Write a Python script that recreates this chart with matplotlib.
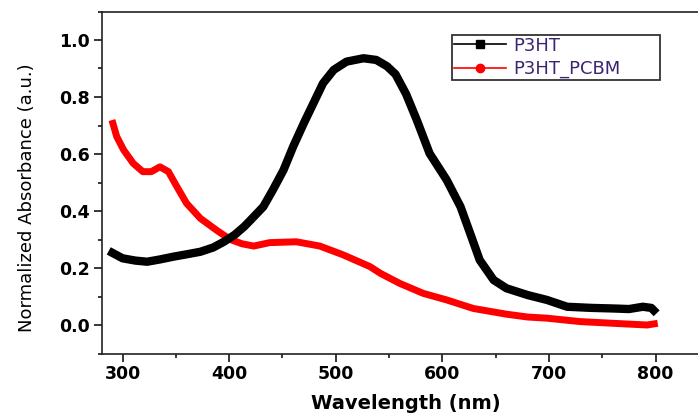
#!/usr/bin/env python3
"""UV-vis absorbance of P3HT and P3HT:PCBM films (normalized)."""

import matplotlib
matplotlib.use("Agg")
import matplotlib.pyplot as plt
from matplotlib.lines import Line2D
from matplotlib.ticker import MultipleLocator

# wavelength [nm] / normalized absorbance
p3ht_wl = [287, 300, 312, 323, 335, 348, 360, 373, 385, 395, 405, 414,
           420, 432, 441, 451, 460, 470, 479, 488, 498, 510, 526, 538,
           548, 556, 566, 576, 588, 604, 617, 626, 635, 648, 660, 680,
           698, 717, 740, 760, 775, 788, 796, 801]
p3ht_abs = [0.260, 0.234, 0.226, 0.222, 0.230, 0.240, 0.248, 0.257, 0.272,
            0.292, 0.316, 0.345, 0.368, 0.415, 0.474, 0.544, 0.626, 0.708,
            0.778, 0.848, 0.895, 0.924, 0.936, 0.930, 0.908, 0.880, 0.810,
            0.719, 0.602, 0.509, 0.415, 0.322, 0.228, 0.158, 0.129, 0.105,
            0.088, 0.064, 0.060, 0.058, 0.056, 0.064, 0.060, 0.041]

pcbm_wl = [290, 294.5, 301, 310, 319, 327, 335, 343, 351, 360, 373, 388,
           401, 412, 423, 438, 463, 485, 507, 532, 542, 560, 582, 604,
           629, 660, 680, 698, 729, 760, 792, 802]
pcbm_abs = [0.719, 0.661, 0.614, 0.567, 0.538, 0.538, 0.555, 0.538, 0.485,
            0.427, 0.374, 0.333, 0.300, 0.285, 0.277, 0.289, 0.292, 0.277,
            0.246, 0.205, 0.181, 0.146, 0.111, 0.088, 0.058, 0.038, 0.028,
            0.024, 0.012, 0.006, 0.000, 0.006]

labels = ["P3HT", "P3HT_PCBM"]
x_ticks = [300, 400, 500, 600, 700, 800]
y_ticks = [0.0, 0.2, 0.4, 0.6, 0.8, 1.0]

W, H = 698, 419
fig = plt.figure(figsize=(W / 100, H / 100), dpi=100)
# frame runs off the right edge of the figure
ax = fig.add_axes([101.7 / W, (H - 353.5) / H, (710 - 101.7) / W, (353.5 - 11.5) / H])

ax.plot(p3ht_wl, p3ht_abs, color="black", lw=6, solid_capstyle="butt",
        solid_joinstyle="round", zorder=3)
ax.plot(pcbm_wl, pcbm_abs, color="#ff0000", lw=5, solid_capstyle="butt",
        solid_joinstyle="round", zorder=2)

ax.set_xlim(280.4, 280.4 + (710 - 101.7) / 1.066)
ax.set_ylim(-0.1, 1.1)
ax.set_xticks(x_ticks)
ax.set_yticks(y_ticks)
ax.xaxis.set_minor_locator(MultipleLocator(50))
ax.yaxis.set_minor_locator(MultipleLocator(0.1))
ax.tick_params(which="major", direction="out", length=5.5, width=1.1, pad=3)
ax.tick_params(which="minor", direction="out", length=3, width=1.1)
ax.tick_params(top=False, right=False, which="both")
for lab in ax.get_xticklabels() + ax.get_yticklabels():
    lab.set_fontfamily("DejaVu Sans")
    lab.set_fontweight("bold")
    lab.set_fontsize(12.5)
for sp in ax.spines.values():
    sp.set_linewidth(1.2)
    sp.set_color("#222222")

ax.set_xlabel("Wavelength (nm)", fontsize=14, fontweight="bold",
              family="DejaVu Sans", labelpad=8)
ax.set_ylabel("Normalized Absorbance (a.u.)", fontsize=13,
              family="DejaVu Sans", va="center")
ax.yaxis.set_label_coords(-0.123, 0.457)

handles = [
    Line2D([], [], color="black", lw=1.2, marker="s", markersize=6),
    Line2D([], [], color="#ff0000", lw=1.2, marker="o", markersize=6),
]
leg_x0, leg_y0, leg_x1, leg_y1 = 451.7, 35, 660, 81.7
leg = ax.legend(handles, labels, loc="upper left", mode="expand",
                bbox_to_anchor=(leg_x0 / W, (H - leg_y1) / H,
                                (leg_x1 - leg_x0) / W, (leg_y1 - leg_y0) / H),
                bbox_transform=fig.transFigure, borderaxespad=0,
                fancybox=False, framealpha=1, edgecolor="#333333",
                handlelength=2.9, handletextpad=0.4,
                labelspacing=0.28, borderpad=0.1,
                prop={"family": "DejaVu Sans", "size": 13})
leg.get_frame().set_linewidth(1.3)
for t in leg.get_texts():
    t.set_color("#3b2470")

fig.savefig("out.png", dpi=100)
